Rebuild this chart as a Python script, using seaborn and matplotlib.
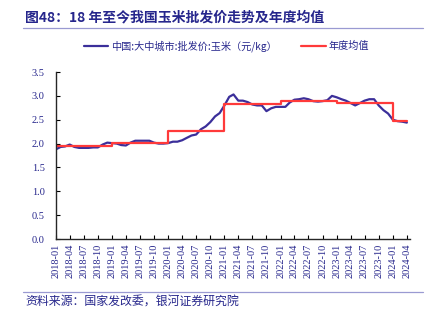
import matplotlib
matplotlib.use("Agg")
import matplotlib.pyplot as plt
import matplotlib.dates as mdates
from matplotlib.lines import Line2D
import seaborn as sns
import pandas as pd

# ---- data ----
start_month = "2018-01-01"
price = [
    1.88, 1.93, 1.94, 1.98, 1.93, 1.91, 1.91, 1.91, 1.92, 1.92, 1.98, 2.02,   # 2018
    2.01, 2.00, 1.97, 1.96, 2.02, 2.06, 2.06, 2.06, 2.06, 2.02, 2.00, 2.00,   # 2019
    2.01, 2.04, 2.04, 2.07, 2.12, 2.17, 2.19, 2.30, 2.36, 2.45, 2.57, 2.64,   # 2020
    2.80, 2.98, 3.03, 2.90, 2.90, 2.87, 2.82, 2.80, 2.80, 2.68, 2.74, 2.77,   # 2021
    2.77, 2.77, 2.86, 2.92, 2.93, 2.95, 2.93, 2.89, 2.88, 2.89, 2.91, 3.00,   # 2022
    2.97, 2.93, 2.90, 2.85, 2.80, 2.85, 2.90, 2.93, 2.93, 2.80, 2.70, 2.63,   # 2023
    2.50, 2.47, 2.46, 2.44,                                                   # 2024
]
years = [2018, 2019, 2020, 2021, 2022, 2023, 2024]
annual_avg = [1.95, 2.01, 2.27, 2.84, 2.89, 2.85, 2.47]
yticks = [0.0, 0.5, 1.0, 1.5, 2.0, 2.5, 3.0, 3.5]
series_names = ["中国:大中城市:批发价:玉米（元/kg）", "年度均值"]
title = "图48：18 年至今我国玉米批发价走势及年度均值"
source = "资料来源：国家发改委，银河证券研究院"

dates = pd.date_range(start_month, periods=len(price), freq="MS")
avg_map = dict(zip(years, annual_avg))
df = pd.DataFrame({"date": dates, "price": price})
df["avg"] = df["date"].dt.year.map(avg_map)

# ---- style ----
sns.set_style("ticks")
plt.rcParams["font.family"] = ["Noto Sans CJK SC", "DejaVu Sans"]

navy = "#26268c"
blue = "#3b2f9a"
red = "#ff3a3a"

fig = plt.figure(figsize=(4.4, 3.23), dpi=100)
ax = fig.add_axes([0.127, 0.260, 0.805, 0.517])

sns.lineplot(data=df, x="date", y="price", ax=ax, color=blue, linewidth=1.6,
             label=series_names[0])
sns.lineplot(data=df, x="date", y="avg", ax=ax, color=red, linewidth=1.6,
             drawstyle="steps-post", label=series_names[1])

ax.set_ylim(0, 3.5)
ax.set_yticks(yticks)
ax.set_yticklabels([f"{v:.1f}" for v in yticks])
ax.set_xlim(pd.Timestamp("2018-01-01"), pd.Timestamp("2024-04-22"))
ax.xaxis.set_major_locator(mdates.MonthLocator(bymonth=[1, 4, 7, 10]))
ax.xaxis.set_major_formatter(mdates.DateFormatter("%Y-%m"))
ax.set_xlabel("")
ax.set_ylabel("")
sns.despine(ax=ax)
ax.spines["left"].set_linewidth(1.0)
ax.spines["bottom"].set_linewidth(1.0)
ax.tick_params(axis="both", direction="in", length=3, width=0.8, colors="black",
               labelcolor=navy, labelsize=7.5)
for lab in ax.get_xticklabels():
    lab.set_rotation(90)
    lab.set_fontfamily("Liberation Serif")
for lab in ax.get_yticklabels():
    lab.set_fontfamily("Liberation Serif")
ax.tick_params(axis="y", pad=8)

ax.get_legend().remove()
handles, labels = ax.get_legend_handles_labels()
fig.legend(handles, labels, loc="center", bbox_to_anchor=(0.515, 0.858), ncol=2,
           frameon=False, fontsize=7.3, handlelength=2.4, handletextpad=0.3,
           columnspacing=2.4, labelcolor=navy)

fig.text(0.057, 0.947, title, fontsize=10, fontweight="bold", color=navy,
         ha="left", va="center")
fig.add_artist(Line2D([0.052, 0.961], [0.913, 0.913], transform=fig.transFigure,
                      color="#9a9ad2", linewidth=0.9))
fig.add_artist(Line2D([0.052, 0.961], [0.097, 0.097], transform=fig.transFigure,
                      color="#9a9ad2", linewidth=0.9))
fig.text(0.057, 0.066, source, fontsize=8.6, style="italic", color=navy,
         ha="left", va="center")

fig.savefig("out.png", dpi=100)
